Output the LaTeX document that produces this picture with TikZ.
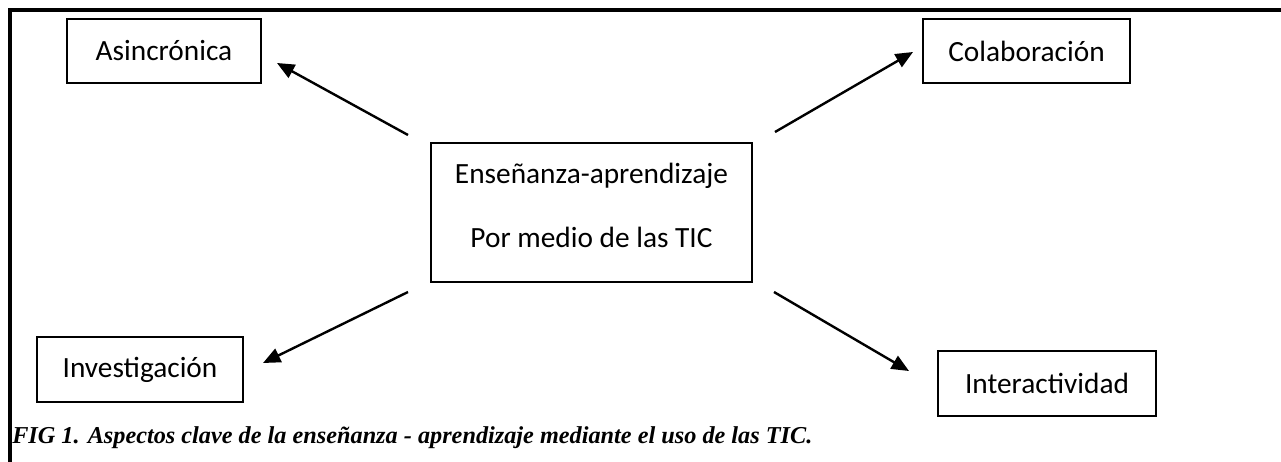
\documentclass[tikz,border=0pt]{standalone}
\usepackage{fontspec}
\setmainfont{Carlito}
\newfontfamily\capfont{Liberation Serif}
\usetikzlibrary{arrows.meta, positioning}

\tikzset{
	clave/.style={draw, line width=1.1pt, inner sep=0pt, font=\fontsize{22}{26}\selectfont},
	flecha/.style={line width=1.8pt, -{Triangle[length=13pt, width=11pt]}}
}

\begin{document}
\begin{tikzpicture}[x=0.75pt, y=-0.75pt]
		\useasboundingbox (0,0) rectangle (1281,461);
		\draw [line width=2.8pt] (10,475)--(10,10)--(1295,10);
		
		\node [clave, minimum width=194*0.75pt, minimum height=64*0.75pt] (asinc) at (164,51) {Asincrónica};
		\node [clave, minimum width=207*0.75pt, minimum height=64*0.75pt] (colab) at (1026.5,51) {Colaboración};
		\node [clave, minimum width=321*0.75pt, minimum height=139*0.75pt, align=center] (ensen) at (591.5,212.5)
		{Enseñanza-aprendizaje\\[22pt] Por medio de las TIC\vspace{10pt}};
		\node [clave, minimum width=206*0.75pt, minimum height=65*0.75pt] (invest) at (140,369.5) {Investigación};
		\node [clave, minimum width=218*0.75pt, minimum height=65*0.75pt] (interac) at (1047,383.5) {Interactividad};
		
		\coordinate (a1) at (408,135);
		\coordinate (a2) at (277,63);
		\coordinate (b1) at (775,132);
		\coordinate (b2) at (913,52);
		\coordinate (c1) at (408,292);
		\coordinate (c2) at (263,363);
		\coordinate (d1) at (774,292);
		\coordinate (d2) at (909,371);
		
		\draw [flecha] (a1)--(a2);
		\draw [flecha] (b1)--(b2);
		\draw [flecha] (c1)--(c2);
		\draw [flecha] (d1)--(d2);
		
		\node [anchor=base west, inner sep=0pt, font=\capfont\bfseries\itshape\fontsize{18.2}{20}\selectfont] (fig) at (12,443)
		{FIG 1. Aspectos clave de la enseñanza - aprendizaje mediante el uso de las TIC.};
		\end{tikzpicture}
\end{document}
